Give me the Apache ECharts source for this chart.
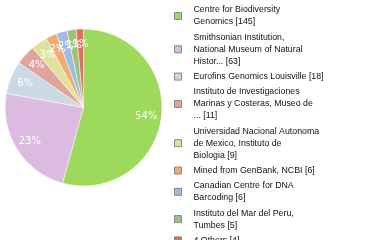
<!DOCTYPE html>
<html>
<head>
<meta charset="utf-8">
<script src="https://cdn.jsdelivr.net/npm/echarts@6/dist/echarts.min.js"></script>
<style>
html,body{margin:0;padding:0;background:#fff;}
#chart{width:380px;height:240px;}
</style>
</head>
<body>
<div id="chart"></div>
<script>
var categories = [
  "Centre for Biodiversity\nGenomics",
  "Smithsonian Institution,\nNational Museum of Natural\nHistor...",
  "Eurofins Genomics Louisville",
  "Instituto de Investigaciones\nMarinas y Costeras, Museo de\n...",
  "Universidad Nacional Autonoma\nde Mexico, Instituto de\nBiologia",
  "Mined from GenBank, NCBI",
  "Canadian Centre for DNA\nBarcoding",
  "Instituto del Mar del Peru,\nTumbes",
  "4 Others"
];
var values = [145, 63, 18, 11, 9, 6, 6, 5, 4];
var colors = ["#9dd95a", "#dbbbdf", "#cbd9e5", "#e0a49d", "#dfe29d", "#f0ab70", "#9ebbe0", "#9dc27b", "#de705a"];

var total = values.reduce(function(a, b){ return a + b; }, 0);
var data = categories.map(function(c, i){ return {name: c, value: values[i], itemStyle: {color: colors[i]}}; });
var labelData = categories.map(function(c, i){ return {name: c, value: values[i]}; });

var chart = echarts.init(document.getElementById('chart'), null, {renderer: 'canvas'});
chart.setOption({
  animation: false,
  legend: {
    orient: 'vertical',
    left: 174,
    top: 4,
    height: 400,
    padding: 0,
    itemWidth: 7,
    itemHeight: 7,
    itemGap: 3.3,
    icon: 'rect',
    itemStyle: {borderColor: '#888', borderWidth: 1},
    data: categories,
    formatter: function(name){
      var i = categories.indexOf(name);
      return name + ' [' + values[i] + ']';
    },
    textStyle: {
      fontFamily: '"Liberation Sans", sans-serif',
      fontSize: 8.8,
      lineHeight: 12,
      color: '#111',
      padding: [0, 0, 0, 7]
    }
  },
  series: [
    {
      type: 'pie',
      center: [83.5, 107.5],
      radius: [0, 78.5],
      startAngle: 90,
      clockwise: true,
      label: {show: false},
      labelLine: {show: false},
      itemStyle: {borderColor: '#fff', borderWidth: 0.5},
      emphasis: {disabled: true},
      data: data
    },
    {
      type: 'pie',
      center: [83.5, 107.5],
      radius: [42, 78.5],
      startAngle: 90,
      clockwise: true,
      silent: true,
      avoidLabelOverlap: false,
      minShowLabelAngle: 0,
      labelLayout: {hideOverlap: false},
      itemStyle: {color: 'rgba(0,0,0,0)'},
      emphasis: {disabled: true},
      labelLine: {show: false},
      label: {
        show: true,
        position: 'inside',
        color: '#fff',
        fontFamily: 'DejaVu Sans',
        fontSize: 10,
        formatter: function(p){ return Math.floor(p.value / total * 100) + '%'; }
      },
      data: labelData
    }
  ]
});
</script>
</body>
</html>
